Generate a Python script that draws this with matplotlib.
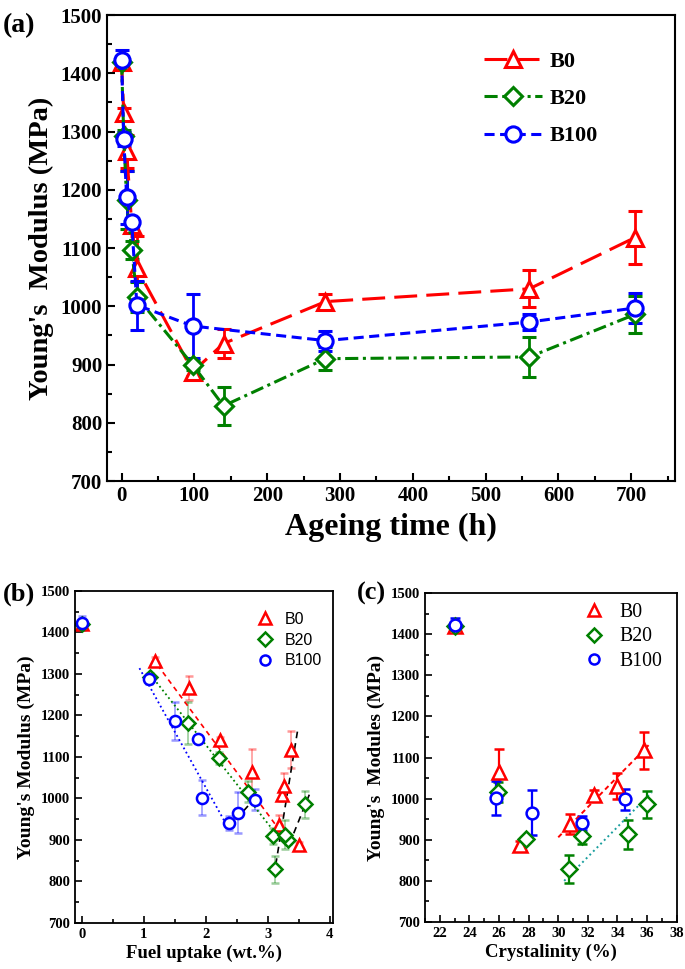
import matplotlib
matplotlib.use("Agg")
import matplotlib.pyplot as plt
from matplotlib.ticker import MultipleLocator
from matplotlib.lines import Line2D

plt.rcParams['font.family'] = ['Liberation Serif', 'DejaVu Serif']

# ---------------- data: panel (a) ----------------
time_h = [0, 3, 7, 14, 21, 98, 140, 280, 560, 705]
b0_mod = [1420, 1331, 1266, 1140, 1065, 888, 936, 1008, 1030, 1118]
b0_err = [10, 10, 28, 8, 55, 8, 25, 13, 32, 45]
b20_mod = [1420, 1293, 1182, 1097, 1016, 899, 829, 910, 913, 986]
b20_err = [10, 10, 50, 15, 25, 8, 33, 20, 35, 32]
time_b100 = [0, 3, 7, 14, 21, 98, 280, 560, 705]
b100_mod = [1423, 1287, 1187, 1144, 1002, 966, 941, 973, 997]
b100_err = [17, 12, 45, 5, 42, 55, 17, 14, 25]

# ---------------- data: panel (b) ----------------
fuel_b0 = [0, 1.18, 1.73, 2.23, 2.74, 3.50, 3.19, 3.23, 3.27, 3.38]
fuel_b0_mod = b0_mod
fuel_b0_err = b0_err
fuel_b20 = [0, 1.10, 1.72, 2.21, 2.68, 3.33, 3.12, 3.08, 3.28, 3.60]
fuel_b20_mod = b20_mod
fuel_b20_err = b20_err
fuel_b100 = [0, 1.08, 1.51, 1.87, 1.94, 2.52, 2.38, 2.79]
fuel_b100_mod = [1423, 1287, 1187, 1144, 1002, 966, 941, 997]
fuel_b100_err = [17, 12, 45, 5, 42, 50, 17, 25]

trend_b0_x = [1.22, 3.25]
trend_b0_y = [1322, 912]
trend_b20_x = [1.11, 3.08]
trend_b20_y = [1298, 925]
trend_b100_x = [0.93, 2.36]
trend_b100_y = [1314, 930]
trend_up1_x = [2.36, 2.85]
trend_up1_y = [928, 1010]
trend_up2_x = [3.13, 3.49]
trend_up2_y = [840, 1170]
trend_up3_x = [3.35, 3.68]
trend_up3_y = [890, 1012]

# ---------------- data: panel (c) ----------------
cryst_b0 = [23.0, 26.0, 27.4, 30.8, 32.4, 34.0, 35.8]
cryst_b0_mod = [1420, 1065, 888, 938, 1009, 1030, 1118]
cryst_b0_err = [10, 55, 8, 25, 13, 32, 45]
cryst_b20 = [23.0, 25.9, 27.8, 30.7, 31.6, 34.7, 36.0]
cryst_b20_mod = [1420, 1016, 902, 829, 910, 913, 986]
cryst_b20_err = [10, 25, 8, 33, 20, 35, 32]
cryst_b100 = [23.0, 25.8, 28.2, 31.6, 34.5]
cryst_b100_mod = [1423, 1001, 966, 941, 998]
cryst_b100_err = [17, 42, 55, 17, 25]

trend_c_b0_x = [30.0, 36.1]
trend_c_b0_y = [906, 1130]
trend_c_b20_x = [30.4, 36.3]
trend_c_b20_y = [800, 1015]

series_labels = ['B0', 'B20', 'B100']

RED, GREEN, BLUE = '#ff0000', '#008000', '#0000ff'

fig = plt.figure(figsize=(6.85, 9.69), dpi=100)


def style_axes(ax, lw, width, majlen, minlen, labelsize):
    ax.tick_params(which='both', direction='in', top=False, right=False, width=width)
    ax.tick_params(which='major', length=majlen, labelsize=labelsize)
    ax.tick_params(which='minor', length=minlen)
    for s in ax.spines.values():
        s.set_linewidth(lw)
    for t in ax.get_xticklabels() + ax.get_yticklabels():
        t.set_fontweight('bold')


# ================= panel (a) =================
axa = fig.add_axes([0.1562, 0.5036, 0.8292, 0.4809])
common = dict(mfc='white', mew=2.2, capsize=5, elinewidth=2, capthick=2, lw=2.2)
styles_a = [
    dict(color=RED, marker='^', ms=11, dashes=(7.5, 3)),
    dict(color=GREEN, marker='D', ms=9, dashes=(4.3, 1.5, 1, 1.5)),
    dict(color=BLUE, marker='o', ms=11, dashes=(3.3, 1.8)),
]
axa.errorbar(time_h, b0_mod, yerr=b0_err, **styles_a[0], **common)
axa.errorbar(time_h, b20_mod, yerr=b20_err, **styles_a[1], **common)
axa.errorbar(time_b100, b100_mod, yerr=b100_err, **styles_a[2], **common)
axa.set_xlim(-20, 760)
axa.set_ylim(700, 1500)
axa.xaxis.set_major_locator(MultipleLocator(100))
axa.xaxis.set_minor_locator(MultipleLocator(50))
axa.yaxis.set_major_locator(MultipleLocator(100))
axa.yaxis.set_minor_locator(MultipleLocator(50))
style_axes(axa, 1.5, 1.5, 6, 3.5, 15)
axa.set_xlabel('Ageing time (h)', fontsize=23, fontweight='bold', labelpad=5)
axa.set_ylabel("Young's  Modulus (MPa)", fontsize=20.5, fontweight='bold', labelpad=5)
handles_a = [Line2D([], [], mfc='white', mew=2.2, lw=2.2, **st) for st in styles_a]
axa.legend(handles_a, series_labels, loc='upper right', bbox_to_anchor=(0.9, 0.965), frameon=False,
           prop={'weight': 'bold', 'size': 16}, handlelength=2.6, handletextpad=0.35,
           labelspacing=0.75)
fig.text(0.004, 0.986, '(a)', fontsize=20, fontweight='bold', va='top')

# ================= panel (b) =================
axb = fig.add_axes([0.1095, 0.0475, 0.3762, 0.3426])
mkb = dict(mfc='white', mew=1.8, capsize=3, elinewidth=1.2, capthick=1.2, ls='none')
markers_b = [(RED, '^', 9), (GREEN, 'D', 7.5), (BLUE, 'o', 8)]
for (xs, ys, es), (c, m, ms) in zip([(fuel_b0, fuel_b0_mod, fuel_b0_err),
                                      (fuel_b20, fuel_b20_mod, fuel_b20_err),
                                      (fuel_b100, fuel_b100_mod, fuel_b100_err)], markers_b):
    eb = axb.errorbar(xs, ys, yerr=es, color=c, marker=m, ms=ms, **mkb)
    for art in eb[1] + eb[2]:
        art.set_alpha(0.4)
axb.plot(trend_b0_x, trend_b0_y, color=RED, lw=1.2, dashes=(3, 2.5))
axb.plot(trend_b20_x, trend_b20_y, color=GREEN, lw=1.3, ls=':')
axb.plot(trend_b100_x, trend_b100_y, color=BLUE, lw=1.3, ls=':')
for tx, ty in [(trend_up1_x, trend_up1_y), (trend_up2_x, trend_up2_y), (trend_up3_x, trend_up3_y)]:
    axb.plot(tx, ty, color='black', lw=1.2, dashes=(4, 3))
axb.set_xlim(-0.11, 4.05)
axb.set_ylim(700, 1500)
axb.xaxis.set_major_locator(MultipleLocator(1))
axb.xaxis.set_minor_locator(MultipleLocator(0.5))
axb.yaxis.set_major_locator(MultipleLocator(100))
axb.yaxis.set_minor_locator(MultipleLocator(50))
style_axes(axb, 1.3, 1.2, 5, 3, 10.5)
axb.set_xlabel('Fuel uptake (wt.%)', fontsize=13.5, fontweight='bold', labelpad=3)
axb.set_ylabel("Young's Modulus (MPa)", fontsize=14, fontweight='bold', labelpad=4)
handles_b = [Line2D([], [], color=c, marker=m, ms=ms * 0.9, mfc='white', mew=1.8, ls='none') for c, m, ms in markers_b]
axb.legend(handles_b, series_labels, loc='upper right', bbox_to_anchor=(1.015, 0.98), frameon=False,
           handlelength=1.0, handletextpad=0.75,
           prop={'family': ['Liberation Sans', 'DejaVu Sans'], 'size': 11.5}, labelspacing=0.35)
fig.text(0.004, 0.399, '(b)', fontsize=19, fontweight='bold', va='top')

# ================= panel (c) =================
axc = fig.add_axes([0.6204, 0.0485, 0.3675, 0.3395])
mkc = dict(mfc='white', mew=1.8, capsize=3.5, elinewidth=1.6, capthick=1.6, ls='none')
markers_c = [(RED, '^', 10), (GREEN, 'D', 8), (BLUE, 'o', 8.5)]
for (xs, ys, es), (c, m, ms) in zip([(cryst_b0, cryst_b0_mod, cryst_b0_err),
                                      (cryst_b20, cryst_b20_mod, cryst_b20_err),
                                      (cryst_b100, cryst_b100_mod, cryst_b100_err)], markers_c):
    axc.errorbar(xs, ys, yerr=es, color=c, marker=m, ms=ms, **mkc)
axc.plot(trend_c_b0_x, trend_c_b0_y, color=RED, lw=1.4, dashes=(2.5, 1.8))
axc.plot(trend_c_b20_x, trend_c_b20_y, color='#1a9e9e', lw=1.4, ls=':')
axc.set_xlim(21, 38)
axc.set_ylim(700, 1500)
axc.xaxis.set_major_locator(MultipleLocator(2))
axc.xaxis.set_minor_locator(MultipleLocator(1))
axc.yaxis.set_major_locator(MultipleLocator(100))
axc.yaxis.set_minor_locator(MultipleLocator(50))
style_axes(axc, 1.3, 1.2, 5, 3, 10.5)
axc.set_xlabel('Crystalinity (%)', fontsize=13.5, fontweight='bold', labelpad=3)
axc.set_ylabel("Young's  Modules (MPa)", fontsize=14, fontweight='bold', labelpad=4)
handles_c = [Line2D([], [], color=c, marker=m, ms=ms * 0.85, mfc='white', mew=1.8, ls='none') for c, m, ms in markers_c]
axc.legend(handles_c, series_labels, loc='upper right', bbox_to_anchor=(1.015, 1.025), frameon=False,
           handlelength=1.0, handletextpad=0.8, prop={'size': 14.2}, labelspacing=0.3)
fig.text(0.521, 0.399, '(c)', fontsize=19, fontweight='bold', va='top')

fig.savefig('out.png', dpi=100)
